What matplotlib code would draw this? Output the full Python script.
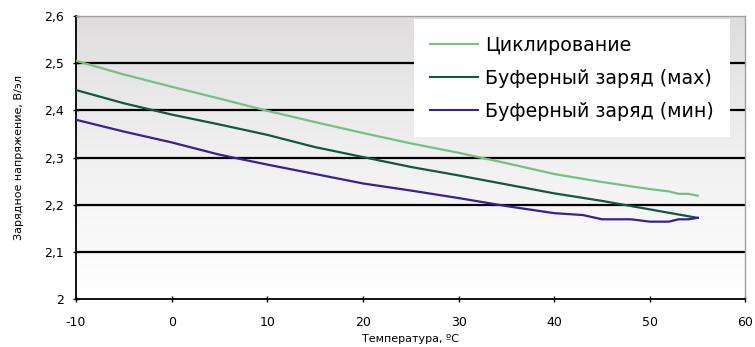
import numpy as np
import matplotlib
matplotlib.use('Agg')
import matplotlib.pyplot as plt

################################################################################
# Data
temp_cycle = [-10, -5, 0, 5, 10, 15, 20, 25, 30, 35, 40, 45, 50, 52, 53, 54, 55]
u_cycle = [2.505, 2.476, 2.450, 2.425, 2.399, 2.375, 2.352, 2.330, 2.310, 2.288,
           2.265, 2.248, 2.233, 2.228, 2.223, 2.223, 2.219]

temp_max = [-10, -5, 0, 5, 10, 15, 20, 25, 30, 35, 40, 45, 50, 55]
u_max = [2.443, 2.415, 2.391, 2.370, 2.348, 2.322, 2.301, 2.280, 2.262, 2.243,
         2.224, 2.208, 2.190, 2.172]

temp_min = [-10, -5, 0, 5, 10, 15, 20, 25, 30, 35, 40, 43, 45, 48, 50, 52, 53, 54, 55]
u_min = [2.380, 2.355, 2.332, 2.306, 2.285, 2.265, 2.245, 2.230, 2.214, 2.197,
         2.182, 2.178, 2.169, 2.169, 2.164, 2.164, 2.169, 2.169, 2.172]

labels = ['Циклирование', 'Буферный заряд (мах)', 'Буферный заряд (мин)']
colors = ['#72c283', '#0e5a3a', '#3a2090']

xticks = [-10, 0, 10, 20, 30, 40, 50, 60]
yticks = [2.0, 2.1, 2.2, 2.3, 2.4, 2.5, 2.6]
ytick_labels = ['2', '2,1', '2,2', '2,3', '2,4', '2,5', '2,6']

################################################################################
# Plot
fig = plt.figure(figsize=(7.55, 3.47), dpi=100)
ax = fig.add_axes([0.1007, 0.1383, 0.8867, 0.8156])

# gradient background, gray at top to white at bottom (one row per pixel)
grad = np.linspace(0, 1, 283).reshape(-1, 1)
top_c = np.array([0.863, 0.855, 0.855])
bot_c = np.array([1.0, 1.0, 1.0])
img = top_c + (bot_c - top_c) * grad[:, :, None] ** 0.75
img = np.repeat(img, 4, axis=1)
ax.imshow(img, extent=[0, 1, 0, 1], transform=ax.transAxes, aspect='auto',
          interpolation='nearest', zorder=0)

for y in yticks[1:-1]:
    ax.axhline(y, color='black', lw=1.6, zorder=1)

ax.plot(temp_cycle, u_cycle, color=colors[0], lw=1.6, label=labels[0], zorder=3)
ax.plot(temp_max, u_max, color=colors[1], lw=1.6, label=labels[1], zorder=3)
ax.plot(temp_min, u_min, color=colors[2], lw=1.6, label=labels[2], zorder=3)

ax.set_xlim(-10, 60)
ax.set_ylim(2.0, 2.6)
ax.set_xticks(xticks)
ax.set_xticklabels([str(t) for t in xticks])
ax.set_yticks(yticks)
ax.set_yticklabels(ytick_labels)
ax.tick_params(direction='inout', length=5, width=1, labelsize=9)
ax.tick_params(axis='x', pad=10)
ax.tick_params(axis='y', pad=6)

for s in ['left', 'bottom']:
    ax.spines[s].set_color('black')
    ax.spines[s].set_linewidth(1.3)
for s in ['top', 'right']:
    ax.spines[s].set_color('#a0a0a0')
    ax.spines[s].set_linewidth(1.0)

ax.set_xlabel('Температура, ºС', fontsize=8, labelpad=3)
ax.set_ylabel('Зарядное напряжение, В/эл', fontsize=8, labelpad=15)

leg = ax.legend(loc='upper right', bbox_to_anchor=(0.977, 0.988), fontsize=13.7,
                frameon=True, fancybox=False, edgecolor='none', facecolor='white',
                framealpha=1.0, handlelength=2.5, handletextpad=0.4,
                labelspacing=0.75, borderpad=0.85, borderaxespad=0)
leg.get_frame().set_linewidth(0)
for line in leg.get_lines():
    line.set_linewidth(1.5)

fig.savefig('out.png', dpi=100)
